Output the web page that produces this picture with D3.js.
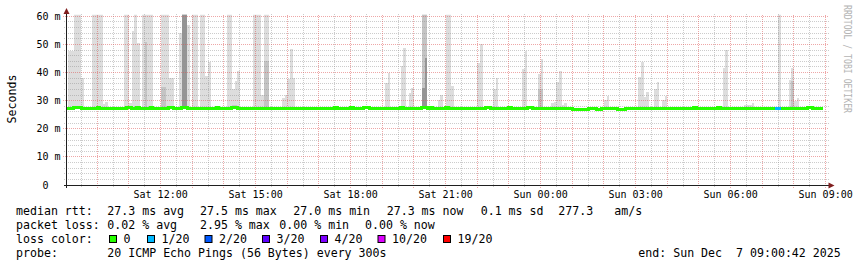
<!DOCTYPE html>
<html>
<head>
<meta charset="UTF-8">
<script src="https://d3js.org/d3.v7.min.js"></script>
<style>
  body { margin: 0; background: #fff; }
  svg text { font-family: "DejaVu Sans Mono", monospace; fill: #000; white-space: pre; }
</style>
</head>
<body>
<svg id="chart" width="857" height="267"></svg>
<script>
// one day of 5 minute smokeping steps, slot 0 = Sat 09:00
var startTime = new Date(Date.UTC(2025, 11, 6, 9, 0, 42));
var endTime = new Date(Date.UTC(2025, 11, 7, 9, 0, 42));
var slotStart = new Date(Date.UTC(2025, 11, 6, 9, 0, 0));
var slotMinutes = 5;
var slotCount = 287;

// median rtt (ms): [first slot, last slot, value]
var medianRuns = [
  [0, 2, 27.3], [3, 5, 27.6], [6, 11, 27.3], [12, 12, 27.6], [13, 22, 27.3], [23, 24, 27.6],
  [25, 26, 27.3], [27, 27, 27.6], [28, 31, 27.3], [32, 32, 27.6], [33, 38, 27.3], [39, 40, 27.6],
  [41, 43, 27.3], [44, 45, 27.6], [46, 56, 27.3], [57, 57, 27.6], [58, 62, 27.3], [63, 64, 27.6],
  [65, 101, 27.3], [102, 102, 27.6], [103, 107, 27.3], [108, 108, 27.6], [109, 112, 27.3],
  [113, 114, 27.6], [115, 126, 27.3], [127, 127, 27.6], [128, 134, 27.3], [135, 136, 27.6],
  [137, 137, 27.3], [138, 138, 27.6], [139, 143, 27.3], [144, 144, 27.6], [145, 158, 27.3],
  [159, 160, 27.6], [161, 167, 27.3], [168, 168, 27.6], [169, 174, 27.3], [175, 176, 27.6],
  [177, 191, 27.3], [192, 197, 26.9], [198, 200, 27.3], [201, 202, 26.9], [203, 208, 27.3],
  [209, 211, 26.9], [212, 237, 27.3], [238, 238, 27.6], [239, 246, 27.3], [247, 247, 27.6],
  [248, 280, 27.3], [281, 282, 27.6], [283, 286, 27.3]
];

// lost pings out of 20: [slot, lost]
var lossSlots = [[269, 1], [270, 1]];

// smoke (ms): [first slot, last slot, top ping, inner band, core band]
var smoke = [
  [1, 2, 47.5], [3, 5, 65], [6, 6, 38], [10, 13, 65], [14, 14, 28.7], [15, 15, 29.5],
  [22, 23, 65], [24, 24, 29], [25, 25, 54.6], [26, 26, 65], [27, 27, 50.5],
  [29, 29, 65], [30, 30, 65, 51], [31, 32, 65], [36, 37, 65, 35], [38, 38, 65], [39, 40, 38],
  [43, 43, 54], [44, 45, 65, 65, 65], [46, 46, 57], [48, 49, 65], [51, 52, 65],
  [53, 53, 38.7], [54, 54, 43.9], [61, 62, 65], [63, 63, 34, 28.5], [64, 64, 37, 28.5],
  [65, 65, 40.5], [71, 73, 65], [74, 74, 32], [75, 76, 65, 44],
  [82, 82, 31], [83, 83, 32], [84, 84, 37.7], [85, 85, 48.5], [86, 86, 38],
  [121, 121, 36.3], [122, 122, 39.9], [127, 127, 42.4], [128, 128, 48.8],
  [130, 130, 32.7], [131, 131, 34.5], [135, 135, 65, 65, 34.4], [136, 136, 65, 65, 45],
  [141, 141, 30.4], [142, 142, 32], [144, 145, 65], [146, 146, 35.2],
  [156, 156, 43.3], [157, 157, 50], [162, 162, 34.3], [163, 163, 38],
  [173, 173, 41.4], [174, 174, 47.7], [179, 179, 39.4, 34], [180, 180, 44.7, 34],
  [184, 184, 29], [185, 185, 29.5], [186, 186, 36.7], [187, 187, 40.5], [188, 188, 28.6], [189, 189, 29],
  [204, 204, 30.3], [205, 205, 31.7], [217, 217, 38.5], [218, 218, 43.6], [219, 219, 31.3], [220, 220, 33],
  [223, 223, 34], [224, 224, 36.5], [226, 226, 30.2], [227, 227, 31.6],
  [249, 249, 41.7], [250, 250, 47.9], [257, 257, 28.3], [258, 259, 28.6], [260, 260, 29.1],
  [270, 270, 65], [274, 274, 37.3], [275, 275, 41.7, 37], [276, 276, 30], [277, 277, 30.8]
];

var yTicks = [0, 10, 20, 30, 40, 50, 60];
var lossLevels = [0, 1, 2, 3, 4, 10, 19];
var lossNames = ["0", "1/20", "2/20", "3/20", "4/20", "10/20", "19/20"];
var lossColors = ["#26ff00", "#00b8ff", "#0059ff", "#5e00ff", "#7e00ff", "#dd00ff", "#ff0000"];
var rttStats = [["27.3", "avg"], ["27.5", "max"], ["27.0", "min"], ["27.3", "now"]];
var rttSd = "0.1";
var rttAms = "277.3";
var lossStats = [["0.02", "avg"], ["2.95", "max"], ["0.00", "min"], ["0.00", "now"]];
var probeText = "20 ICMP Echo Pings (56 Bytes) every 300s";
var endText = "end: Sun Dec  7 09:00:42 2025";

var svg = d3.select("#chart");
var x = d3.scaleUtc().domain([startTime, endTime]).range([66, 826]);
var y = d3.scaleLinear().domain([0, 60]).range([185, 16.3]);
var slotTime = function (k) { return d3.utcMinute.offset(slotStart, k * slotMinutes); };
var px = function (v) { return Math.floor(v) + 0.5; };

var medianAt = function (k) {
  var r = medianRuns.find(function (d) { return k >= d[0] && k <= d[1]; });
  return r ? r[2] : 27.3;
};
var lossAt = function (k) {
  var r = lossSlots.find(function (d) { return d[0] === k; });
  return r ? r[1] : 0;
};
var lossColor = function (n) {
  var i = 0;
  lossLevels.forEach(function (l, j) { if (n >= l) i = j; });
  return lossColors[i];
};

svg.append("defs").append("clipPath").attr("id", "plot")
  .append("rect").attr("x", 66).attr("y", 14.7).attr("width", 762).attr("height", 171);

// smoke
var bands = [[2, "#dddddd"], [3, "#c4c4c4"], [4, "#959595"]];
var smokeG = svg.append("g").attr("clip-path", "url(#plot)").attr("shape-rendering", "crispEdges");
bands.forEach(function (b) {
  smokeG.selectAll(null)
    .data(smoke.filter(function (d) { return d[b[0]] != null; }))
    .enter().append("rect")
    .attr("x", function (d) { return Math.max(66, x(slotTime(d[0]))); })
    .attr("width", function (d) { return x(slotTime(d[1] + 1)) - Math.max(66, x(slotTime(d[0]))); })
    .attr("y", function (d) { return y(d[b[0]]); })
    .attr("height", function (d) { return y(medianAt(d[0])) - y(d[b[0]]); })
    .attr("fill", b[1]);
});

// grid
var grid = svg.append("g");
var minorX = x.ticks(d3.utcMinute.every(30)).filter(function (t) { return t.getUTCMinutes() !== 0; });
var majorX = x.ticks(d3.utcHour.every(1));
var minorY = d3.range(2, 61, 2).filter(function (v) { return v % 10 !== 0; });
var majorY = yTicks.filter(function (v) { return v > 0; });

grid.selectAll(null).data(minorX).enter().append("line")
  .attr("x1", function (d) { return px(x(d)); }).attr("x2", function (d) { return px(x(d)); })
  .attr("y1", 187).attr("y2", 14)
  .attr("stroke", "rgba(143,143,143,0.45)").attr("stroke-dasharray", "1,1");
grid.selectAll(null).data(minorY).enter().append("line")
  .attr("y1", function (d) { return px(y(d)); }).attr("y2", function (d) { return px(y(d)); })
  .attr("x1", 64).attr("x2", 829)
  .attr("stroke", "rgba(143,143,143,0.45)").attr("stroke-dasharray", "1,1");
grid.selectAll(null).data(majorX).enter().append("line")
  .attr("x1", function (d) { return px(x(d)); }).attr("x2", function (d) { return px(x(d)); })
  .attr("y1", 188).attr("y2", 14)
  .attr("stroke", "rgba(222,79,79,0.5)").attr("stroke-dasharray", "1,1");
grid.selectAll(null).data(majorY).enter().append("line")
  .attr("y1", function (d) { return px(y(d)); }).attr("y2", function (d) { return px(y(d)); })
  .attr("x1", 63).attr("x2", 829)
  .attr("stroke", "rgba(222,79,79,0.5)").attr("stroke-dasharray", "1,1");

// median line coloured by loss
var slots = d3.range(slotCount).map(function (k) { return { k: k, v: medianAt(k), c: lossColor(lossAt(k)) }; });
var segs = [];
slots.forEach(function (s) {
  if (!segs.length || segs[segs.length - 1].c !== s.c) segs.push({ c: s.c, pts: [] });
  segs[segs.length - 1].pts.push(s);
});
var line = d3.line()
  .x(function (d) { return Math.max(66, x(slotTime(d.k))); })
  .y(function (d) { return y(d.v); })
  .curve(d3.curveStepAfter);
segs.forEach(function (sg) {
  var last = sg.pts[sg.pts.length - 1];
  var pts = sg.pts.concat([{ k: last.k + 1, v: last.v }]);
  svg.append("path").attr("d", line(pts)).attr("fill", "none")
    .attr("stroke", sg.c).attr("stroke-width", 3).attr("shape-rendering", "crispEdges");
});

// axes
svg.append("line").attr("x1", 64).attr("x2", 829).attr("y1", 185.5).attr("y2", 185.5).attr("stroke", "#1f1f1f");
svg.append("line").attr("x1", 66.5).attr("x2", 66.5).attr("y1", 188).attr("y2", 13).attr("stroke", "#1f1f1f");
svg.append("path").attr("d", "M66.5,8 L63.5,14 L69.5,14 Z").attr("fill", "#801f1f");
svg.append("path").attr("d", "M834.5,185.5 L828.5,182.5 L828.5,188.5 Z").attr("fill", "#801f1f");

// tick labels
svg.selectAll(null).data(yTicks).enter().append("text")
  .attr("x", function (d) { return d === 0 ? 48.5 : 60.5; })
  .attr("y", function (d) { return y(d) + 3.6; })
  .attr("text-anchor", "end").attr("font-size", "10px")
  .text(function (d) { return d === 0 ? "0" : d + " m"; });

var fmt = d3.utcFormat("%a %H:%M");
svg.selectAll(null).data(x.ticks(d3.utcHour.every(3)).filter(function (t) { return t.getUTCHours() % 3 === 0; }))
  .enter().append("text")
  .attr("x", function (d) { return x(d); }).attr("y", 197.5)
  .attr("text-anchor", "middle").attr("font-size", "10px")
  .text(function (d) { return fmt(d); });

svg.append("text").attr("transform", "translate(15.5,99) rotate(-90)")
  .attr("text-anchor", "middle").attr("font-size", "11.6px").text("Seconds");

svg.append("text").attr("transform", "translate(844,5) rotate(90)")
  .attr("font-size", "11px").attr("textLength", 108).attr("lengthAdjust", "spacingAndGlyphs")
  .style("fill", "#b4b4b4").text("RRDTOOL / TOBI OETIKER");

// legend
var leg = svg.append("g").attr("font-size", "11.6px");
var put = function (t, lx, ly) {
  leg.append("text").attr("x", lx).attr("y", ly).attr("xml:space", "preserve")
    .style("white-space", "pre").text(t);
};
var rttX = [107.3, 200, 293.3, 386.7];
put("median rtt:", 16, 215);
rttStats.forEach(function (s, i) { put(s[0] + " ms " + s[1], rttX[i], 215); });
put(rttSd + " ms sd", 480.7, 215);
put(rttAms, 558.3, 215);
put("am/s", 614.3, 215);

var lossX = [107.3, 200, 279.3, 365];
put("packet loss:", 16, 229);
lossStats.forEach(function (s, i) { put(s[0] + " % " + s[1], lossX[i], 229); });

put("loss color:", 16, 243);
var boxX = [109, 147, 204.5, 262, 320, 377.5, 443];
lossNames.forEach(function (n, i) {
  leg.append("rect").attr("x", boxX[i] + 0.5).attr("y", 235.5).attr("width", 7).attr("height", 7)
    .attr("fill", lossColors[i]).attr("stroke", "#000").attr("stroke-width", 1);
  put(n, boxX[i] + 14.5, 243);
});

put("probe:", 16, 257);
put(probeText, 107.3, 257);
put(endText, 638.3, 257);
</script>
</body>
</html>
